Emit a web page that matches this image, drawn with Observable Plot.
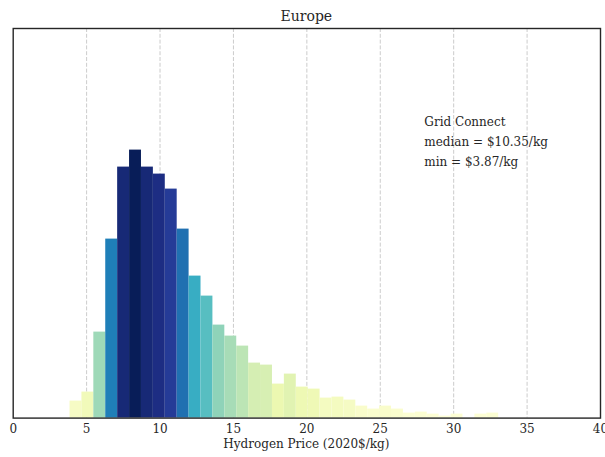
<!DOCTYPE html>
<html>
<head>
<meta charset="utf-8">
<script src="https://cdn.jsdelivr.net/npm/d3@7"></script>
<script src="https://cdn.jsdelivr.net/npm/@observablehq/plot@0.6"></script>
<style>
  html, body { margin: 0; padding: 0; background: #fff; }
  body { width: 605px; height: 457px; overflow: hidden; font-family: "DejaVu Serif", serif; color: #262626; }
  #title { box-sizing: border-box; height: 24px; padding-top: 4px; line-height: 24px; font-size: 14px; text-align: center; padding-left: 12.7px; padding-right: 5px; white-space: nowrap; }
  #xlabel { box-sizing: border-box; height: 20px; line-height: 15px; font-size: 12px; text-align: center; padding-left: 12.7px; padding-right: 5px; white-space: nowrap; }
  #chart svg { display: block; }
</style>
</head>
<body>
<div id="title"></div>
<div id="chart"></div>
<div id="xlabel"></div>
<script>
// ---- data ----
const region = "Europe";
const scenario = "Grid Connect";
const xLabel = "Hydrogen Price (2020$/kg)";
const medianPrice = 10.35;
const minPrice = 3.87;
const binWidth = 0.811;
const counts = [17, 26, 86, 179, 251, 268, 251, 244, 229, 189, 142, 122, 93, 82, 72, 55, 53, 34, 44, 31,
                29, 20, 21, 18, 12, 9, 12, 9, 5, 6, 4, 2, 4, 0, 4, 5];
const xTicks = [0, 5, 10, 15, 20, 25, 30, 35, 40];
const gridTicks = [5, 10, 15, 20, 25, 30, 35];
const ylGnBu = ["#ffffd9", "#edf8b1", "#c7e9b4", "#7fcdbb", "#41b6c4", "#1d91c0", "#225ea8", "#253494", "#081d58"];
const annotX = 28;
const annotY = 306;

// ---- build ----
const bins = counts.map((c, i) => ({
  x1: minPrice + i * binWidth,
  x2: minPrice + (i + 1) * binWidth,
  count: c
}));
const maxCount = d3.max(counts);
const annotation = `${scenario}\nmedian = $${medianPrice.toFixed(2)}/kg\nmin = $${minPrice.toFixed(2)}/kg`;

document.getElementById("title").textContent = region;
document.getElementById("xlabel").textContent = xLabel;

const chart = Plot.plot({
  width: 605,
  height: 413,
  marginTop: 4,
  marginLeft: 12.7,
  marginRight: 5,
  marginBottom: 19.4,
  style: { fontFamily: "DejaVu Serif", fontSize: "12px", color: "#262626", background: "white", overflow: "visible" },
  x: { domain: [0, 40] },
  y: { domain: [0, 389.6], axis: null },
  color: { type: "linear", domain: [0, maxCount], interpolate: d3.piecewise(d3.interpolateRgb, ylGnBu) },
  marks: [
    Plot.ruleX(gridTicks, { stroke: "#cccccc", strokeWidth: 1, strokeDasharray: "4,1.8" }),
    Plot.rectY(bins, { x1: "x1", x2: "x2", y: "count", fill: "count", inset: 0 }),
    Plot.axisX(xTicks, { tickSize: 0, tickPadding: 6, fontSize: 12, label: null, tickFormat: d => String(d) }),
    Plot.text([annotation], { x: () => annotX, y: () => annotY, text: d => d, textAnchor: "start", lineAnchor: "top", lineHeight: 1.67, fontSize: 12, fill: "#262626" }),
    Plot.frame({ stroke: "#262626", strokeWidth: 1.4 })
  ]
});
document.getElementById("chart").appendChild(chart);
</script>
</body>
</html>
